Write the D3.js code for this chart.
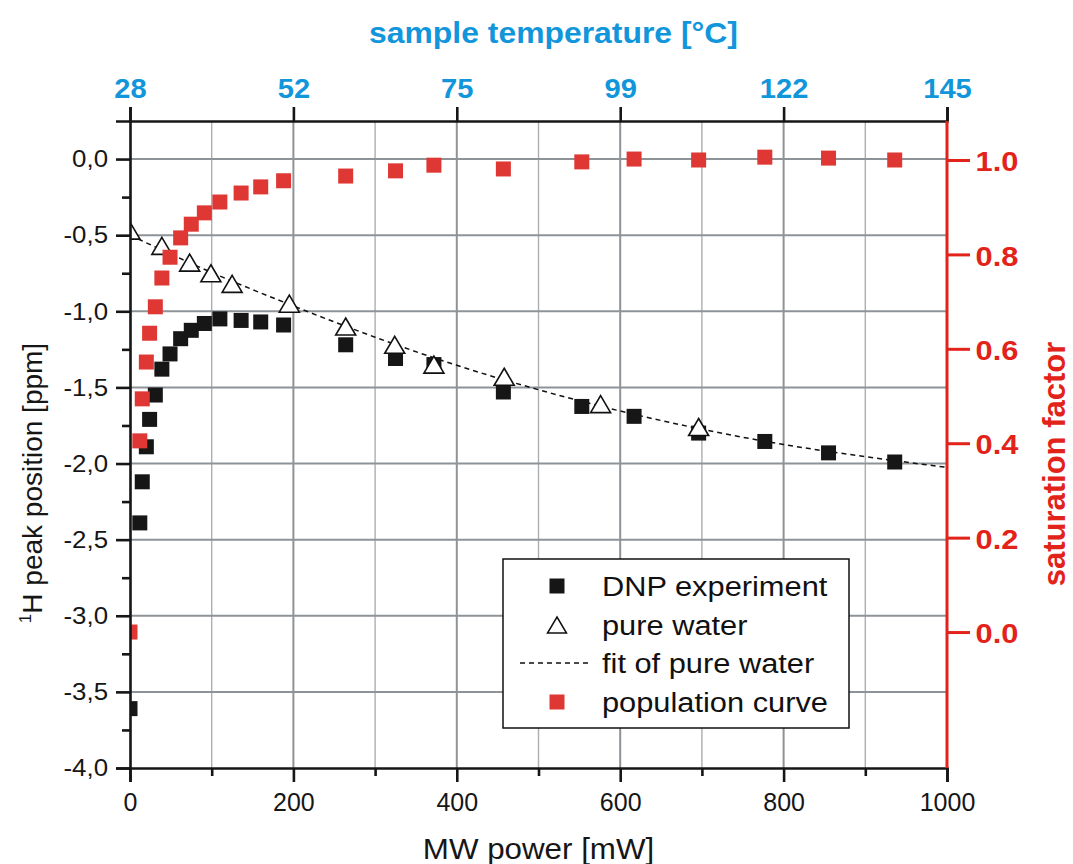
<!DOCTYPE html>
<html>
<head>
<meta charset="utf-8">
<script src="https://cdn.jsdelivr.net/npm/d3@7"></script>
<style>
  html, body { margin: 0; padding: 0; background: #fff; }
  svg { display: block; font-family: "Liberation Sans", Arial, sans-serif; }
</style>
</head>
<body>
<svg id="chart" width="1073" height="864"></svg>
<script>
// ---------------- data ----------------
const dnpPower = [0, 12, 15, 20, 24, 31, 39, 49, 62, 75, 91, 110, 136, 160, 188, 264, 325, 372, 457, 553, 617, 696, 777, 855, 936];
const dnpShift = [-3.61, -2.39, -2.12, -1.89, -1.71, -1.55, -1.38, -1.28, -1.18, -1.125, -1.08, -1.05, -1.06, -1.07, -1.09, -1.22, -1.31, -1.35, -1.53, -1.625, -1.69, -1.80, -1.855, -1.93, -1.99];
const saturation = [0.0, 0.405, 0.494, 0.572, 0.633, 0.689, 0.75, 0.794, 0.835, 0.864, 0.888, 0.911, 0.930, 0.943, 0.956, 0.966, 0.977, 0.989, 0.981, 0.996, 1.002, 1.0, 1.006, 1.004, 1.0];
const waterPower = [0, 39, 73, 99, 125, 195, 264, 324, 372, 458, 576, 696];
const waterShift = [-0.47, -0.57, -0.68, -0.75, -0.82, -0.95, -1.10, -1.22, -1.35, -1.43, -1.61, -1.76];
const fitPower = [0, 100, 200, 300, 400, 500, 600, 700, 800, 900, 1000];
const fitShift = [-0.50, -0.745, -0.965, -1.17, -1.355, -1.515, -1.655, -1.775, -1.875, -1.955, -2.025];
const powerTicks = [0, 200, 400, 600, 800, 1000];
const powerMinorTicks = [100, 300, 500, 700, 900];
const tempLabels = ["28", "52", "75", "99", "122", "145"];
const shiftTicks = [0, -0.5, -1.0, -1.5, -2.0, -2.5, -3.0, -3.5, -4.0];
const shiftMinorTicks = [-0.25, -0.75, -1.25, -1.75, -2.25, -2.75, -3.25, -3.75];
const satTicks = [0.0, 0.2, 0.4, 0.6, 0.8, 1.0];
const legendLabels = ["DNP experiment", "pure water", "fit of pure water", "population curve"];

// ---------------- layout ----------------
const L = 130, R = 947, T = 121, B = 768;
const BLACK = "#161616", RED = "#e2231a", REDMARK = "#df3834", BLUE = "#1296db";
const GRID_DARK = "#8e9398", GRID_LIGHT = "#abaeb2";

const svg = d3.select("#chart");
const x = d3.scaleLinear().domain([0, 1000]).range([L, R]);
const yL = d3.scaleLinear().domain([-4, 0.25]).range([B, T]);
const yR = d3.scaleLinear().domain([-0.288, 1.0826]).range([B, T]);

// ---------------- grid ----------------
const grid = svg.append("g");
grid.selectAll("line.vminor").data(powerMinorTicks).join("line")
  .attr("x1", d => x(d)).attr("x2", d => x(d)).attr("y1", T).attr("y2", B)
  .attr("stroke", GRID_LIGHT).attr("stroke-width", 1.4);
grid.selectAll("line.vmajor").data(powerTicks.filter(d => d > 0 && d < 1000)).join("line")
  .attr("x1", d => x(d)).attr("x2", d => x(d)).attr("y1", T).attr("y2", B)
  .attr("stroke", GRID_DARK).attr("stroke-width", 2);
grid.selectAll("line.h").data(shiftTicks.filter(d => d > -4)).join("line")
  .attr("x1", L).attr("x2", R).attr("y1", d => yL(d)).attr("y2", d => yL(d))
  .attr("stroke", GRID_DARK).attr("stroke-width", 2);

// ---------------- data ----------------
svg.append("clipPath").attr("id", "plotclip").append("rect")
  .attr("x", L).attr("y", T).attr("width", R - L).attr("height", B - T);
const plot = svg.append("g").attr("clip-path", "url(#plotclip)");

const fitData = fitPower.map((p, i) => [p, fitShift[i]]);
plot.append("path")
  .attr("d", d3.line().x(d => x(d[0])).y(d => yL(d[1])).curve(d3.curveMonotoneX)(fitData))
  .attr("fill", "none").attr("stroke", "#111").attr("stroke-width", 1.5)
  .attr("stroke-dasharray", "5,4");

const SQ = 15;
plot.selectAll("rect.dnp").data(dnpPower.map((p, i) => [p, dnpShift[i]])).join("rect")
  .attr("x", d => x(d[0]) - SQ / 2).attr("y", d => yL(d[1]) - SQ / 2)
  .attr("width", SQ).attr("height", SQ).attr("fill", BLACK);

function triPath(w, h) {
  return `M0,${-h / 2}L${w / 2},${h / 2}L${-w / 2},${h / 2}Z`;
}
plot.selectAll("path.water").data(waterPower.map((p, i) => [p, waterShift[i]])).join("path")
  .attr("d", triPath(20, 17))
  .attr("transform", d => `translate(${x(d[0])},${yL(d[1])})`)
  .attr("fill", "#fff").attr("stroke", "#111").attr("stroke-width", 1.6)
  .attr("stroke-linejoin", "miter");

plot.selectAll("rect.sat").data(dnpPower.map((p, i) => [p, saturation[i]])).join("rect")
  .attr("x", d => x(d[0]) - SQ / 2).attr("y", d => yR(d[1]) - SQ / 2)
  .attr("width", SQ).attr("height", SQ).attr("fill", REDMARK);

// ---------------- axes ----------------
function styleAxis(g, color, width) {
  g.select(".domain").attr("stroke", color).attr("stroke-width", width);
  g.selectAll(".tick line").attr("stroke", color).attr("stroke-width", width);
}

// left
const axL = svg.append("g").attr("transform", `translate(${L},0)`)
  .call(d3.axisLeft(yL).tickValues(shiftTicks).tickSize(14).tickPadding(6)
    .tickFormat(d => d.toFixed(1).replace(".", ",")));
styleAxis(axL, BLACK, 2.6);
axL.selectAll(".tick text").attr("fill", BLACK).attr("font-size", 23.5)
  .attr("dy", "0.33em").attr("transform", "scale(1.1,1)");
const axLm = svg.append("g").attr("transform", `translate(${L},0)`)
  .call(d3.axisLeft(yL).tickValues(shiftMinorTicks).tickSize(8).tickFormat(""));
styleAxis(axLm, BLACK, 2.6);
axLm.select(".domain").remove();

// bottom
const axB = svg.append("g").attr("transform", `translate(0,${B})`)
  .call(d3.axisBottom(x).tickValues(powerTicks).tickSize(14).tickPadding(11).tickFormat(d3.format("d")));
styleAxis(axB, BLACK, 2.6);
axB.selectAll(".tick text").attr("fill", BLACK).attr("font-size", 25);
const axBm = svg.append("g").attr("transform", `translate(0,${B})`)
  .call(d3.axisBottom(x).tickValues(powerMinorTicks).tickSize(8).tickFormat(""));
styleAxis(axBm, BLACK, 2.6);
axBm.select(".domain").remove();

// top (temperature)
const axT = svg.append("g").attr("transform", `translate(0,${T})`)
  .call(d3.axisTop(x).tickValues(powerTicks).tickSize(14).tickPadding(9)
    .tickFormat((d, i) => tempLabels[i]));
styleAxis(axT, BLACK, 2.6);
axT.selectAll(".tick text").attr("fill", BLUE).attr("font-size", 28)
  .attr("font-weight", "bold").attr("transform", "scale(1.04,1)");

// right (saturation factor)
const axR = svg.append("g").attr("transform", `translate(${R},0)`)
  .call(d3.axisRight(yR).tickValues(satTicks).tickSize(23).tickPadding(3)
    .tickFormat(d => d.toFixed(1)));
styleAxis(axR, RED, 3);
axR.select(".domain").attr("d", `M0,${T}V${B}`);
axR.selectAll(".tick text").attr("fill", RED).attr("font-size", 28)
  .attr("font-weight", "bold").attr("dy", "0.38em").attr("transform", "scale(1.1,1)");

// ---------------- titles ----------------
function stretchText(str, tx, ty, opts) {
  const t = svg.append("text")
    .attr("transform", `translate(${tx},${ty}) ${opts.rotate ? "rotate(" + opts.rotate + ")" : ""} scale(${opts.sx || 1},1)`)
    .attr("text-anchor", opts.anchor || "middle")
    .attr("font-size", opts.size)
    .attr("font-weight", opts.weight || "normal")
    .attr("fill", opts.fill || BLACK);
  if (opts.html) t.html(opts.html); else t.text(str);
  return t;
}

stretchText("sample temperature [°C]", (L + R) / 2 + 15, 43, { size: 29, weight: "bold", fill: BLUE, sx: 1.1 });
stretchText("MW power [mW]", (L + R) / 2, 859, { size: 29, sx: 1.08 });
stretchText(null, 42, 483, {
  size: 28, rotate: -90,
  html: '<tspan font-size="17" dy="-11">1</tspan><tspan dy="11">H peak position [ppm]</tspan>'
});
stretchText("saturation factor", 1065, 464, { size: 31, weight: "bold", fill: RED, rotate: -90 });

// ---------------- legend ----------------
const lg = svg.append("g");
lg.append("rect").attr("x", 503).attr("y", 559).attr("width", 346).attr("height", 169)
  .attr("fill", "#fff").attr("stroke", "#111").attr("stroke-width", 1.5);
const rowY = [586, 625, 663, 702];
lg.append("rect").attr("x", 557 - SQ / 2).attr("y", rowY[0] - SQ / 2).attr("width", SQ).attr("height", SQ).attr("fill", BLACK);
lg.append("path").attr("d", triPath(19, 16)).attr("transform", `translate(557,${rowY[1]})`)
  .attr("fill", "#fff").attr("stroke", "#111").attr("stroke-width", 1.5);
lg.append("line").attr("x1", 520).attr("x2", 592).attr("y1", rowY[2]).attr("y2", rowY[2])
  .attr("stroke", "#111").attr("stroke-width", 1.5).attr("stroke-dasharray", "5,4");
lg.append("rect").attr("x", 557 - SQ / 2).attr("y", rowY[3] - SQ / 2).attr("width", SQ).attr("height", SQ).attr("fill", REDMARK);
legendLabels.forEach((s, i) => {
  lg.append("text").attr("transform", `translate(602,${rowY[i] + 10}) scale(1.1,1)`)
    .attr("font-size", 28).attr("fill", "#111").text(s);
});
</script>
</body>
</html>
